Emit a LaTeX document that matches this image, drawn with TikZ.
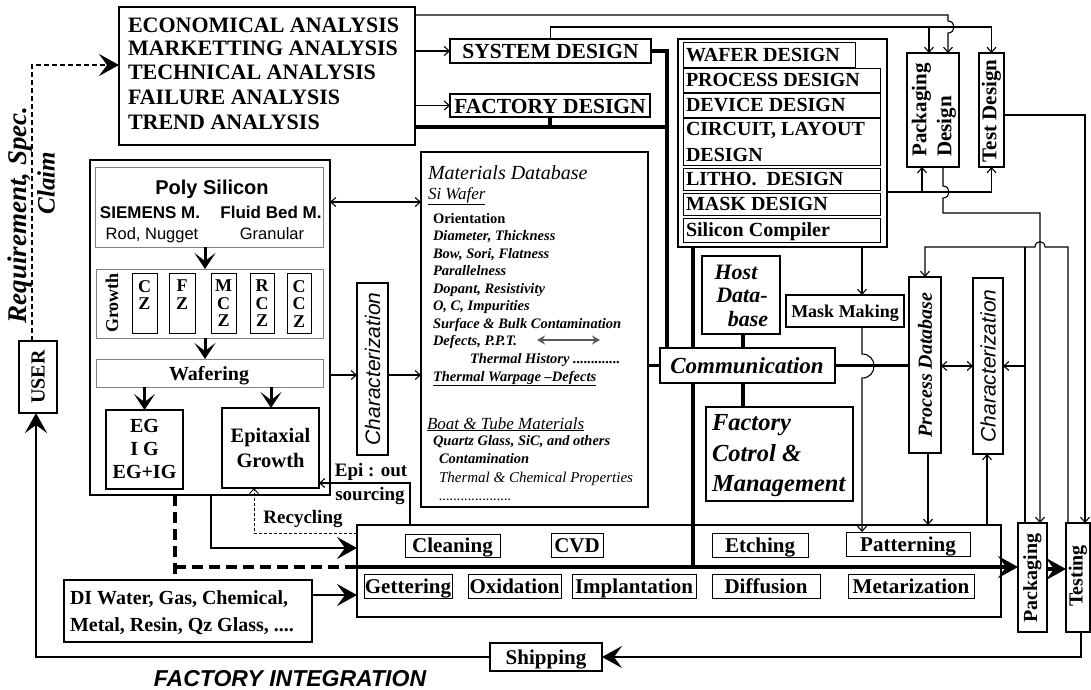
\documentclass[tikz,border=0pt]{standalone}
\usepackage{fontspec}
\setmainfont{Liberation Serif}
\setsansfont{Liberation Sans}
\usetikzlibrary{arrows.meta,calc}
\newcommand\fsz[2]{\fontsize{#1}{#2}\selectfont}
\newcommand\mybox[6]{\node[#6,minimum width={(#4-#2)*1pt},minimum height={(#5-#3)*1pt}] (#1) at ({(#2+#4)/2},{(#3+#5)/2}) {};}
\begin{document}
\begin{tikzpicture}[x=1pt,y=-1pt,
  bx/.style={draw,line width=1.1pt,inner sep=0pt,outer sep=0pt},
  gbx/.style={draw=black!50,line width=0.9pt,inner sep=0pt,outer sep=0pt},
  ibx/.style={draw,line width=0.8pt,inner sep=0pt,outer sep=0pt},
  tx/.style={inner sep=0pt,outer sep=0pt,anchor=base},
  txl/.style={inner sep=0pt,outer sep=0pt,anchor=base west},
  rt/.style={inner sep=0pt,outer sep=0pt,rotate=90},
  fB/.style={font=\bfseries\fsz{#1}{#1}},
  fBI/.style={font=\bfseries\itshape\fsz{#1}{#1}},
  fI/.style={font=\itshape\fsz{#1}{#1}},
  fSB/.style={font=\sffamily\bfseries\fsz{#1}{#1}},
  fS/.style={font=\sffamily\fsz{#1}{#1}},
  fSI/.style={font=\sffamily\itshape\fsz{#1}{#1}},
  fSBI/.style={font=\sffamily\bfseries\itshape\fsz{#1}{#1}},
  ln/.style={line width=1.1pt},
  ta/.style={ln,-{Straight Barb[length=5pt,width=9pt]}},
  tda/.style={ln,{Straight Barb[length=5pt,width=9pt]}-{Straight Barb[length=5pt,width=9pt]}},
  thk/.style={line width=3.5pt},
  mid/.style={line width=2.2pt},
  big/.style={-{Stealth[length=20pt,width=22pt,inset=8pt]}},
  vee/.style={line width=3pt,-{Stealth[length=16pt,width=21pt,inset=8pt]}},
]
\useasboundingbox (0,0) rectangle (1091,689);

% ---------- analysis ----------
\mybox{ana}{119}{7}{415}{145}{bx}
\node[txl,fB=22] (a1) at (128,32) {ECONOMICAL ANALYSIS};
\node[txl,fB=22] (a2) at (128,55) {MARKETTING ANALYSIS};
\node[txl,fB=22] (a3) at (128,79) {TECHNICAL ANALYSIS};
\node[txl,fB=22] (a4) at (128,104) {FAILURE ANALYSIS};
\node[txl,fB=22] (a5) at (128,129) {TREND ANALYSIS};

\mybox{sys}{450}{39}{651}{63}{bx}
\node[tx,fB=21.5] (syst) at (550.5,58.5) {SYSTEM DESIGN};
\mybox{fac}{450}{94}{650}{117}{bx}
\node[tx,fB=21.5] (fact) at (550,113) {FACTORY DESIGN};

% ---------- design stack ----------
\mybox{stack}{678}{39}{887}{247}{bx}
\mybox{wd}{683}{42}{855}{67}{ibx}
\mybox{pd}{683}{68}{880}{92}{ibx}
\mybox{dd}{683}{93}{880}{117}{ibx}
\mybox{cd}{683}{118}{880}{165}{ibx}
\mybox{ld}{683}{168}{880}{190}{ibx}
\mybox{md}{683}{193}{880}{215}{ibx}
\mybox{sc}{683}{218}{880}{242}{ibx}
\node[txl,fB=20] (wdt) at (686,61) {WAFER DESIGN};
\node[txl,fB=20] (pdt) at (686,86.5) {PROCESS DESIGN};
\node[txl,fB=20] (ddt) at (686,111.5) {DEVICE DESIGN};
\node[txl,fB=20] (cdt1) at (686,135) {CIRCUIT, LAYOUT};
\node[txl,fB=20] (cdt2) at (686,161.5) {DESIGN};
\node[txl,fB=20] (ldt) at (686,185.5) {LITHO.~ DESIGN};
\node[txl,fB=20] (mdt) at (686,210.5) {MASK DESIGN};
\node[txl,fB=20] (sct) at (686,236.5) {Silicon Compiler};

\mybox{pkd}{907}{53}{959}{167}{bx}
\node[rt,font=\bfseries\fsz{21}{25},align=left] (pkdt) at (934,110) {Packaging\\Design};
\mybox{tsd}{979}{53}{1004}{167}{bx}
\node[rt,fB=21] (tsdt) at (991.5,111) {Test Design};

% ---------- materials database ----------
\mybox{mdb}{421}{152}{648}{507}{bx}
\node[txl,fI=20] (mdbt) at (428,179) {Materials Database};
\node[txl,fI=17] (siw) at (428,199) {\underline{Si Wafer}};
\node[txl,fB=14.5] (m1) at (433,223) {Orientation};
\node[txl,fBI=14.5] (m2) at (433,240.5) {Diameter, Thickness};
\node[txl,fBI=14.5] (m3) at (433,258) {Bow, Sori, Flatness};
\node[txl,fBI=14.5] (m4) at (433,275.5) {Parallelness};
\node[txl,fBI=14.5] (m5) at (433,293) {Dopant, Resistivity};
\node[txl,fBI=14.5] (m6) at (433,310.5) {O, C, Impurities};
\node[txl,fBI=14.5] (m7) at (433,328) {Surface \& Bulk Contamination};
\node[txl,fBI=14.5] (m8) at (433,345.5) {Defects, P.P.T.};
\node[txl,fBI=14.5] (m9) at (470,363) {Thermal History .............};
\node[txl,fBI=14.5] (m10) at (433,381) {\underline{Thermal Warpage --Defects}};
\node[txl,fI=17] (bt) at (427,429) {\underline{Boat \& Tube Materials}};
\node[txl,fBI=14.5] (b1) at (433,445) {Quartz Glass, SiC, and others};
\node[txl,fBI=14.5] (b2) at (439,463) {Contamination};
\node[txl,fI=15] (b3) at (439,482) {Thermal \& Chemical Properties};
\node[txl,fI=14.5] (b4) at (439,500) {....................};
\coordinate (dpa) at (537,340);
\coordinate (dpb) at (600,340);
\draw[line width=1.6pt,black!65,{Stealth[length=8pt,width=9pt]}-{Stealth[length=8pt,width=9pt]}] (dpa) -- (dpb);

% ---------- poly silicon area ----------
\mybox{outer}{90}{160}{330}{495}{bx}
\mybox{poly}{95}{167}{323}{247}{gbx}
\node[tx,fSB=20] (polyt) at (212,194) {Poly Silicon};
\node[tx,fSB=17] (siem) at (150,218) {SIEMENS M.};
\node[tx,fSB=17] (flu) at (271,218) {Fluid Bed M.};
\node[tx,fS=16.5] (rod) at (152,239) {Rod, Nugget};
\node[tx,fS=16.5] (gran) at (272,239) {Granular};

\mybox{grow}{96}{269}{323}{338}{gbx}
\node[rt,fB=18] (growt) at (112,303) {Growth};
\mybox{cz}{132}{273}{157}{333}{ibx}
\mybox{fz}{169}{273}{195}{333}{ibx}
\mybox{mcz}{211}{273}{236}{333}{ibx}
\mybox{rcz}{250}{273}{274}{333}{ibx}
\mybox{ccz}{287}{273}{311}{333}{ibx}
\node[inner sep=0pt,anchor=north,font=\bfseries\fsz{18}{17.5},align=center] (czt) at (144.5,280) {C\\Z};
\node[inner sep=0pt,anchor=north,font=\bfseries\fsz{18}{17.5},align=center] (fzt) at (182,280) {F\\Z};
\node[inner sep=0pt,anchor=north,font=\bfseries\fsz{18}{17.5},align=center] (mczt) at (223.5,280) {M\\C\\Z};
\node[inner sep=0pt,anchor=north,font=\bfseries\fsz{18}{17.5},align=center] (rczt) at (262,280) {R\\C\\Z};
\node[inner sep=0pt,anchor=north,font=\bfseries\fsz{18}{17.5},align=center] (cczt) at (299,280) {C\\C\\Z};

\mybox{waf}{96}{359}{323}{387}{gbx}
\node[tx,fB=20] (waft) at (209,380) {Wafering};
\mybox{eg}{106}{410}{183}{489}{bx}
\node[tx,fB=20] (eg1) at (144.5,432) {EG};
\node[tx,fB=20] (eg2) at (144.5,455) {I G};
\node[tx,fB=20] (eg3) at (144.5,478) {EG+IG};
\mybox{epi}{222}{408}{319}{488}{bx}
\node[tx,fB=20.5] (ep1) at (270.5,442) {Epitaxial};
\node[tx,fB=20.5] (ep2) at (270.5,467) {Growth};

\mybox{charL}{357}{283}{388}{455}{bx}
\node[rt,fSI=21] (charLt) at (372.5,369) {Characterization};

\node[tx,fB=19] (epio) at (371,476) {Epi : out};
\node[tx,fB=19] (sourc) at (370,500) {sourcing};
\node[tx,fB=19] (recy) at (303,523) {Recycling};

% ---------- right middle ----------
\mybox{host}{702}{256}{780}{334}{bx}
\node[tx,fBI=22] (h1) at (736,279) {Host};
\node[tx,fBI=22] (h2) at (742,302) {Data-};
\node[tx,fBI=22] (h3) at (748,326) {base};
\mybox{mask}{786}{295}{904}{327}{bx}
\node[tx,fB=18] (maskt) at (845,317) {Mask Making};
\mybox{comm}{660}{348}{835}{383}{bx}
\node[tx,fBI=23] (commt) at (747,373.5) {Communication};
\mybox{fcm}{706}{407}{853}{501}{bx}
\node[txl,fBI=24.5] (f1) at (712,430) {Factory};
\node[txl,fBI=24.5] (f2) at (712,461) {Cotrol \&};
\node[txl,fBI=24.5] (f3) at (712,491) {Management};
\mybox{pdb}{909}{277}{941}{453}{bx}
\node[rt,fBI=20] (pdbt) at (925,365) {Process Database};
\mybox{charR}{973}{278}{1003}{454}{bx}
\node[rt,fSI=21] (charRt) at (988,366) {Characterization};

% ---------- process ----------
\mybox{procU}{357}{525}{1001}{566}{bx}
\mybox{procL}{357}{568}{1001}{617}{bx}
\mybox{clean}{405}{534}{500}{557}{ibx}
\mybox{cvd}{551}{533}{603}{557}{ibx}
\mybox{etch}{712}{533}{808}{557}{ibx}
\mybox{patt}{846}{532}{970}{556}{ibx}
\mybox{gett}{364}{574}{452}{598}{ibx}
\mybox{oxid}{468}{574}{561}{598}{ibx}
\mybox{impl}{572}{574}{696}{598}{ibx}
\mybox{diff}{712}{574}{820}{598}{ibx}
\mybox{meta}{848}{574}{974}{598}{ibx}
\node[tx,fB=21] (cleant) at (452.5,552.5) {Cleaning};
\node[tx,fB=21] (cvdt) at (577,552.5) {CVD};
\node[tx,fB=21] (etcht) at (760,552) {Etching};
\node[tx,fB=21] (pattt) at (908,551.5) {Patterning};
\node[tx,fB=21] (gettt) at (408,593) {Gettering};
\node[tx,fB=21] (oxidt) at (514.5,593) {Oxidation};
\node[tx,fB=21] (implt) at (634,593) {Implantation};
\node[tx,fB=21] (difft) at (766,593) {Diffusion};
\node[tx,fB=21] (metat) at (911,593) {Metarization};

\mybox{pkg}{1018}{523}{1047}{632}{bx}
\node[rt,fB=20] (pkgt) at (1032.5,578) {Packaging};
\mybox{tst}{1066}{523}{1090}{632}{bx}
\node[rt,fB=20] (tstt) at (1078,576) {Testing};

\mybox{user}{19}{341}{57}{413}{bx}
\node[rt,fB=20] (usert) at (38,377) {USER};
\node[rt,fBI=27] (req) at (20,215) {Requirement, Spec.};
\node[rt,fBI=25] (clm) at (46,183) {Claim};

\mybox{diw}{64}{580}{312}{642}{bx}
\node[txl,fB=20] (d1) at (70,604) {DI Water, Gas, Chemical,};
\node[txl,fB=20] (d2) at (70,631) {Metal, Resin, Qz Glass, ....};
\mybox{ship}{490}{643}{602}{671}{bx}
\node[tx,fB=21] (shipt) at (546,664) {Shipping};
\node[tx,fSBI=23] (fi) at (290,686) {FACTORY INTEGRATION};

% ================= connectors =================
% requirement dashed
\draw[line width=2pt,dash pattern=on 5pt off 3pt,big] (user.north -| 32,0) |- (ana.west |- 0,65);
% analysis -> designs
\draw[ta] (ana.east |- sys.west) -- (sys.west);
\draw[ta] (ana.east |- fac.west) -- (fac.west);
% thick bus
\draw[thk] (sys.east) -| (comm.north -| 667,0);
\draw[thk] (ana.east |- 0,127) -- (667,127);
\draw[thk] (fac.south) -- (fac.south |- 0,127);
\draw[thk] (stack.south -| 693,0) -- (comm.north -| 693,0);
\draw[thk] (comm.south -| 693,0) -- (693,567);
\draw[thk] (host.south -| 743,0) -- (comm.north -| 743,0);
\draw[thk] (comm.south -| 743,0) -- (fcm.north -| 743,0);
\draw[thk] (mdb.east |- comm.west) -- (comm.west);
\draw[thk] (comm.east) -- (pdb.west |- comm.east);
% top lines
\draw[ta] (ana.east |- 0,15) -- (948,15) -- (948,21) .. controls (956,21) and (956,33) .. (948,33) -- (pkd.north -| 948,0);
\draw[ta] (sys.north) |- (tsd.north |- 0,27) -- (tsd.north);
\draw[ta] (929,27) -- (pkd.north -| 929,0);
% design stack -> packaging/test design
\draw[ta] (stack.east |- 0,192) -- (tsd.south |- 0,192) -- (tsd.south);
\draw[ta] (922,192) -- (pkd.south -| 922,0);
\draw[ta] (pkd.south -| 943,0) -- (943,186) .. controls (951,186) and (951,198) .. (943,198) -- (943,213) -- (1040,213) -- (pkg.north -| 1040,0);
% feedback to process database
\draw[ta] (tst.north -| 1068,0) -- (1068,247) -- (1045,247) .. controls (1045,240) and (1035,240) .. (1035,247) -- (pdb.north |- 0,247) -- (pdb.north);
\draw[ln] (pkg.north -| 1025,0) -- (1025,247);
\draw[ta] (1025,366) -- (charR.east |- 0,366);
\draw[tda] (pdb.east |- 0,366) -- (charR.west |- 0,366);
\draw[ta] (tsd.east |- 0,115) -| (tst.north -| 1085,0);
% mask making
\draw[ta] (stack.south -| 862,0) -- (mask.north -| 862,0);
\draw[ta] (mask.south -| 862,0) -- (862,354) .. controls (878,354) and (878,378) .. (862,378) -- (patt.north -| 862,0);
\draw[ta] (pdb.south -| 928,0) -- (procU.north -| 928,0);
\draw[ta] (procU.north -| 987,0) -- (charR.south -| 987,0);
% poly area
\draw[tda] (outer.east |- 0,202) -- (mdb.west |- 0,202);
\draw[ta] (outer.east |- 0,375) -- (charL.west |- 0,375);
\draw[ta] (charL.east |- 0,375) -- (mdb.west |- 0,375);
\draw[vee] (poly.south -| 205,0) -- (grow.north -| 205,0);
\draw[vee] (grow.south -| 205,0) -- (waf.north -| 205,0);
\draw[vee] (waf.south -| eg.north) -- (eg.north);
\draw[vee] (waf.south -| 271,0) -- (epi.north -| 271,0);
\draw[ta] (procU.north -| 410,0) |- (epi.east |- 0,483);
\draw[ta,line width=0.9pt,dash pattern=on 3pt off 2pt] (procU.west |- 0,533) -| (epi.south -| 254,0);
\draw[mid,big] (outer.south -| 211,0) |- (procU.west |- 0,548);
\draw[thk,dash pattern=on 11pt off 6pt] (outer.south -| 175,0) -- (diw.north -| 175,0);
\draw[thk,dash pattern=on 11pt off 6pt] (175,567) -- (procU.west |- 0,567);
% main flow
\draw[thk,big] (procU.west |- 0,567) -- (pkg.west |- 0,567);
\draw[thk,big] (pkg.east |- 0,569) -- (tst.west |- 0,569);
\draw[mid,big] (diw.east |- 0,595) -- (procL.west |- 0,595);
\draw[mid,big] (tst.south -| 1081,0) |- (ship.east);
\draw[mid,big] (ship.west) -| (user.south -| 36,0);
\end{tikzpicture}
\end{document}
